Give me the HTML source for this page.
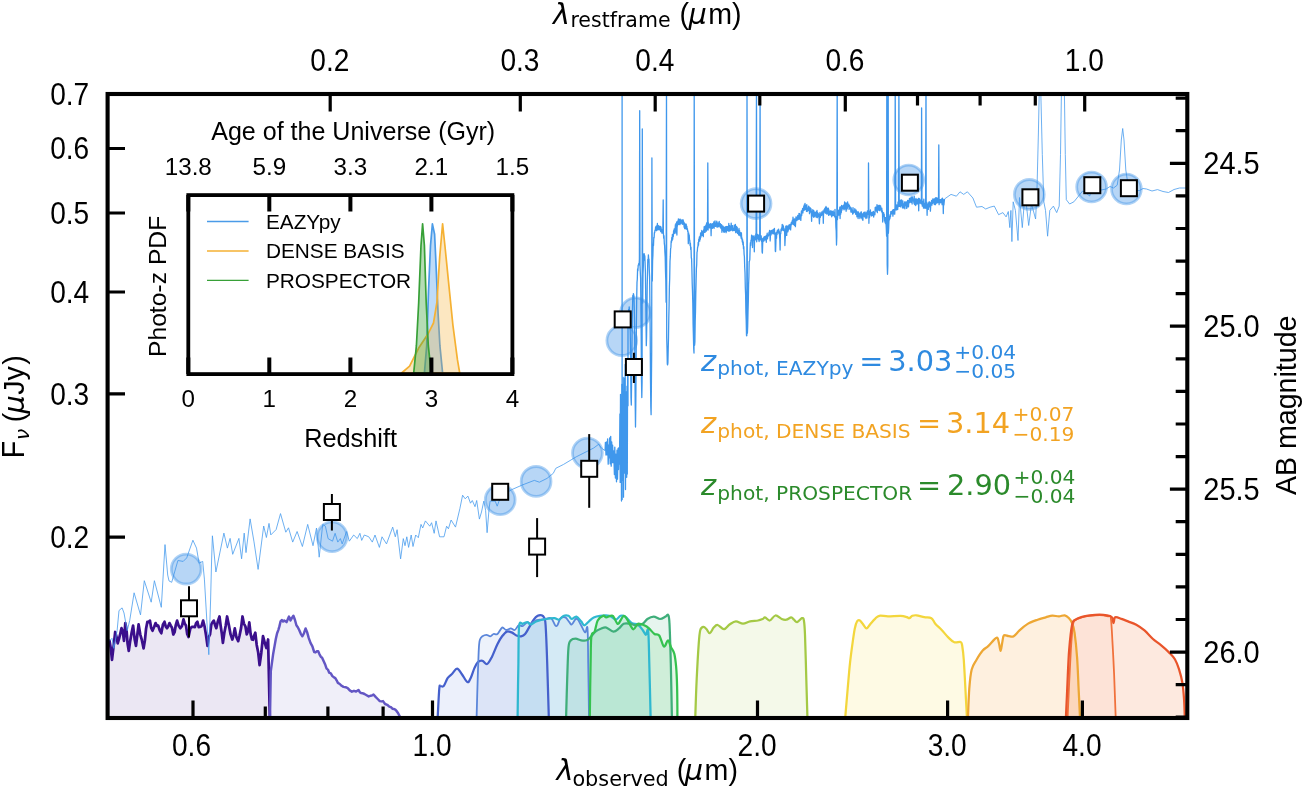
<!DOCTYPE html>
<html lang="en"><head><meta charset="utf-8"><title>SED fit</title>
<style>
html,body{margin:0;padding:0;background:#fff;}
body{width:1307px;height:791px;overflow:hidden;}
svg{display:block;}
.a{font-family:"Liberation Sans", Arial, Helvetica, sans-serif;fill:#000;}
.d{font-family:"DejaVu Sans", "Liberation Sans", sans-serif;}
.di{font-family:"DejaVu Sans", "Liberation Sans", sans-serif;font-style:italic;}
.t{font-size:28.6px;}
.i{font-size:24.2px;}
</style></head><body>
<svg width="1307" height="791" viewBox="0 0 1307 791">
<rect width="1307" height="791" fill="#fff"/>
<defs><clipPath id="cp"><rect x="107.6" y="94.0" width="1079.7" height="624.0"/></clipPath></defs>

<g clip-path="url(#cp)">
<path d="M107.6,641.0 L109.5,640.8 L110.8,648.6 L112.0,659.8 L113.6,646.2 L115.2,632.0 L116.5,636.8 L117.7,643.3 L119.0,638.9 L120.2,634.0 L121.5,628.2 L122.8,631.7 L124.0,640.8 L125.3,623.1 L126.5,629.3 L127.6,643.8 L128.8,650.9 L130.2,640.9 L131.7,632.3 L133.1,625.6 L134.6,638.9 L136.0,645.9 L137.3,635.0 L138.6,624.4 L140.3,634.6 L141.9,640.2 L143.6,648.4 L144.9,640.4 L146.1,628.4 L147.4,621.8 L148.7,622.1 L149.9,620.6 L151.2,628.0 L152.5,630.7 L154.1,627.0 L155.6,623.1 L156.9,625.9 L158.2,625.6 L159.8,630.5 L161.3,633.2 L162.9,624.7 L164.5,621.8 L165.8,626.7 L167.0,628.2 L168.2,626.2 L169.5,623.1 L170.8,625.6 L172.0,627.7 L173.3,634.5 L174.6,632.2 L175.8,625.1 L177.1,620.6 L178.7,625.8 L180.3,628.2 L181.9,626.2 L183.5,619.3 L184.8,623.8 L186.0,625.6 L187.2,634.0 L188.5,637.0 L190.4,628.2 L192.0,626.9 L193.6,626.9 L194.9,627.1 L196.1,623.1 L197.4,621.8 L198.7,627.1 L199.9,626.9 L201.5,626.2 L203.1,620.6 L204.6,626.5 L206.0,635.1 L207.5,645.9 L208.8,636.9 L210.0,634.5 L211.3,624.4 L212.6,622.1 L213.8,620.6 L215.1,625.2 L216.3,628.2 L217.9,621.1 L219.5,616.5 L220.6,625.3 L221.8,633.4 L222.9,642.9 L224.3,633.1 L225.7,625.8 L227.1,616.5 L228.8,624.7 L230.6,634.4 L232.3,639.5 L233.6,635.1 L234.8,628.4 L236.5,637.5 L238.2,641.2 L239.6,635.2 L241.1,627.9 L242.5,616.5 L243.9,623.6 L245.4,626.3 L246.8,634.4 L248.1,630.7 L249.3,622.4 L250.6,633.9 L251.9,639.5 L253.0,639.8 L254.2,635.4 L255.3,632.7 L256.7,644.9 L258.2,652.5 L259.6,665.1 L261.3,652.7 L263.0,636.1 L264.7,642.5 L266.4,648.0 L268.1,639.5 L269.8,716.3 L269.8,718.0 L107.6,718.0 Z" fill="#3b0f8c" fill-opacity="0.102" stroke="none"/>
<path d="M270.0,716.9 L270.8,671.1 L273.2,653.7 L274.5,646.4 L275.8,639.0 L277.1,633.2 L278.3,630.1 L279.4,626.4 L280.6,621.3 L281.8,620.0 L283.0,621.5 L284.2,620.5 L286.6,622.1 L289.0,616.6 L290.5,620.5 L291.9,617.9 L293.4,615.8 L294.9,619.7 L296.4,625.3 L297.8,627.2 L299.2,630.0 L300.8,633.8 L302.4,636.3 L304.0,633.2 L305.6,628.4 L307.1,632.1 L308.7,637.9 L310.5,642.9 L312.4,646.3 L314.2,652.1 L315.5,652.4 L316.9,651.2 L318.2,651.3 L319.5,654.3 L320.8,656.7 L322.1,657.7 L323.7,661.3 L325.3,664.8 L326.6,668.6 L327.9,669.6 L329.2,672.7 L330.8,673.3 L332.4,676.1 L334.0,677.4 L335.3,678.1 L336.6,680.3 L337.9,682.9 L339.8,684.0 L341.6,685.8 L343.5,686.9 L345.6,687.2 L347.7,688.1 L349.8,690.4 L351.9,691.7 L354.0,690.8 L356.1,691.6 L358.5,690.0 L359.8,692.2 L361.1,693.1 L362.4,693.2 L364.5,694.0 L366.6,695.2 L368.7,696.4 L370.3,695.8 L371.9,695.5 L373.5,694.5 L375.6,696.9 L377.7,699.0 L379.8,701.1 L381.4,701.4 L383.0,701.1 L385.1,704.0 L387.2,704.8 L389.3,706.6 L390.9,707.2 L392.4,708.7 L394.0,709.0 L395.3,709.7 L396.7,711.2 L398.0,713.0 L400.0,716.9 L400.0,718.0 L270.0,718.0 Z" fill="#6356c4" fill-opacity="0.093" stroke="none"/>
<path d="M437.7,716.9 C438.0,712.2 438.8,693.6 439.3,688.5 C439.8,683.4 439.8,686.5 440.5,686.1 C441.2,685.7 442.5,687.4 443.7,686.1 C444.9,684.8 446.2,680.3 447.6,678.2 C449.1,676.1 450.8,675.1 452.4,673.5 C454.0,671.9 455.5,668.6 457.1,668.7 C458.7,668.8 460.2,672.0 461.9,674.2 C463.6,676.4 465.9,681.4 467.4,682.1 C468.8,682.8 469.4,680.6 470.6,678.2 C471.8,675.8 473.3,670.5 474.5,667.9 C475.7,665.3 476.4,663.6 477.7,662.4 C479.0,661.2 480.8,660.5 482.4,660.8 C484.0,661.1 485.5,664.6 487.1,664.0 C488.7,663.4 490.2,660.2 491.9,656.9 C493.6,653.6 495.7,647.6 497.4,644.2 C499.1,640.8 500.5,638.4 502.1,636.3 C503.7,634.2 505.3,632.2 506.9,631.6 C508.5,631.0 510.0,631.8 511.6,632.4 C513.2,633.0 514.8,634.9 516.4,635.5 C518.0,636.1 519.6,636.5 521.1,636.3 C522.6,636.0 523.8,635.5 525.1,634.0 C526.4,632.5 527.6,630.0 529.0,627.6 C530.4,625.2 532.2,621.7 533.7,619.7 C535.2,617.7 536.4,616.5 537.7,615.8 C539.0,615.1 540.6,615.0 541.6,615.3 C542.6,615.6 543.3,615.7 544.0,617.4 C544.7,619.1 545.1,617.7 545.6,625.3 C546.1,632.9 546.7,647.9 547.2,663.2 C547.7,678.5 548.5,708.0 548.8,716.9 L548.8,718.0 L437.7,718.0 Z" fill="#4468d6" fill-opacity="0.102" stroke="none"/>
<path d="M476.6,716.9 C476.8,710.6 477.3,690.6 477.7,679.0 C478.1,667.4 478.5,654.0 478.9,647.4 C479.3,640.8 479.4,641.4 480.0,639.5 C480.6,637.6 481.3,637.1 482.4,636.3 C483.5,635.5 485.1,634.8 486.4,634.8 C487.7,634.8 489.1,636.4 490.3,636.3 C491.5,636.2 492.3,634.4 493.5,634.0 C494.7,633.6 496.0,635.1 497.4,634.0 C498.8,632.9 500.7,628.3 502.1,627.6 C503.6,626.9 504.7,629.9 506.1,630.0 C507.6,630.1 509.4,628.4 510.8,628.4 C512.2,628.4 513.5,630.5 514.8,630.0 C516.1,629.5 517.4,625.9 518.7,625.3 C520.0,624.6 521.2,626.6 522.7,626.1 C524.2,625.6 526.1,622.5 527.4,622.1 C528.7,621.7 529.3,624.0 530.6,623.7 C531.9,623.4 533.7,621.2 535.3,620.5 C536.9,619.8 538.4,620.0 540.0,619.7 C541.6,619.5 542.9,619.2 544.8,619.0 C546.6,618.8 549.4,617.2 551.1,618.2 C552.8,619.2 554.1,624.1 555.1,625.3 C556.1,626.5 556.5,626.5 557.4,625.3 C558.3,624.1 559.3,619.5 560.6,618.2 C561.9,616.9 563.8,616.8 565.3,617.4 C566.8,618.0 568.2,620.9 569.3,622.1 C570.4,623.3 570.7,625.0 571.7,624.5 C572.8,624.0 574.6,619.8 575.6,619.0 C576.6,618.2 577.1,618.7 578.0,619.7 C578.9,620.8 579.9,623.2 581.1,625.3 C582.3,627.4 584.0,631.9 585.1,632.4 C586.2,632.9 587.0,623.3 587.5,628.4 C588.0,633.5 588.0,648.5 588.2,663.2 C588.5,678.0 588.9,708.0 589.0,716.9 L589.0,718.0 L476.6,718.0 Z" fill="#5b86da" fill-opacity="0.111" stroke="none"/>
<path d="M517.6,716.9 C517.7,708.0 518.1,678.3 518.4,663.2 C518.6,648.1 518.4,632.7 519.1,626.1 C519.8,619.5 521.3,624.4 522.7,623.7 C524.1,623.0 526.1,622.0 527.4,622.1 C528.7,622.2 529.0,624.6 530.6,624.5 C532.2,624.4 534.3,622.2 536.9,621.3 C539.5,620.4 543.5,619.5 546.4,619.0 C549.3,618.5 552.2,618.1 554.3,618.2 C556.4,618.3 557.4,620.1 559.0,619.7 C560.6,619.3 562.2,616.4 563.8,615.8 C565.4,615.1 567.2,615.3 568.5,615.8 C569.8,616.3 570.4,618.9 571.7,619.0 C573.0,619.1 574.8,616.2 576.4,616.6 C578.0,617.0 579.8,619.8 581.1,621.3 C582.4,622.8 583.0,625.3 584.3,625.3 C585.6,625.3 587.4,622.6 589.0,621.3 C590.6,620.0 591.9,618.3 593.8,617.4 C595.6,616.5 597.5,616.1 600.1,615.8 C602.7,615.5 606.9,615.1 609.5,615.8 C612.1,616.4 614.0,619.7 615.8,619.7 C617.6,619.7 618.9,616.3 620.5,615.8 C622.1,615.3 623.4,615.4 625.3,616.6 C627.1,617.8 629.5,621.6 631.6,622.9 C633.7,624.2 636.0,623.3 637.9,624.5 C639.8,625.7 641.4,628.3 642.7,630.0 C644.0,631.7 644.9,634.7 645.8,634.8 C646.7,634.9 647.6,626.1 648.2,630.8 C648.8,635.5 648.9,648.9 649.3,663.2 C649.7,677.6 650.4,708.0 650.6,716.9 L650.6,718.0 L517.6,718.0 Z" fill="#2fb8d0" fill-opacity="0.128" stroke="none"/>
<path d="M566.1,716.9 C566.3,710.6 566.8,690.6 567.2,679.0 C567.6,667.4 567.9,653.9 568.5,647.4 C569.1,640.9 569.7,641.8 570.9,640.3 C572.1,638.8 573.9,638.7 575.6,638.7 C577.3,638.7 579.2,640.0 581.1,640.3 C583.0,640.6 585.1,640.8 586.7,640.3 C588.3,639.8 589.2,638.5 590.6,637.1 C592.0,635.7 593.5,633.1 595.4,631.6 C597.2,630.1 599.9,629.1 601.7,628.4 C603.5,627.7 604.3,627.1 606.3,627.6 C608.2,628.1 611.3,631.5 613.4,631.6 C615.5,631.7 617.3,629.7 619.0,628.4 C620.7,627.1 621.9,624.5 623.7,623.7 C625.5,622.9 627.9,623.4 630.0,623.7 C632.1,624.0 634.2,625.3 636.3,625.3 C638.4,625.3 640.9,624.8 642.7,623.7 C644.6,622.7 645.6,620.2 647.4,619.0 C649.2,617.8 651.6,616.6 653.7,616.6 C655.8,616.6 658.0,619.0 660.0,619.0 C662.0,619.0 664.2,617.3 665.6,616.6 C667.0,615.9 667.6,613.8 668.2,615.0 C668.9,616.2 669.1,615.7 669.5,623.7 C669.9,631.7 670.4,647.7 670.8,663.2 C671.2,678.7 671.7,708.0 671.9,716.9 L671.9,718.0 L566.1,718.0 Z" fill="#3fae7a" fill-opacity="0.128" stroke="none"/>
<path d="M589.8,716.9 C589.9,708.0 590.3,676.6 590.6,663.2 C590.9,649.8 590.7,641.6 591.4,636.3 C592.1,631.0 593.5,634.2 594.6,631.6 C595.7,629.0 596.2,623.1 597.7,620.5 C599.2,617.9 601.9,616.3 603.3,615.8 C604.7,615.3 604.8,617.4 606.3,617.4 C607.8,617.4 610.8,614.8 612.6,615.8 C614.5,616.8 616.1,622.9 617.4,623.7 C618.7,624.5 619.5,621.8 620.5,620.5 C621.5,619.2 622.6,616.0 623.7,615.8 C624.8,615.5 625.3,616.8 626.9,619.0 C628.5,621.2 631.4,628.4 633.2,629.2 C635.0,630.0 636.1,624.4 637.9,623.7 C639.7,623.1 642.4,624.5 644.2,625.3 C646.1,626.1 647.3,626.9 649.0,628.4 C650.7,629.9 652.8,632.8 654.5,634.0 C656.2,635.2 657.6,633.4 659.2,635.5 C660.8,637.6 662.5,645.8 664.0,646.6 C665.5,647.4 666.7,640.2 667.9,640.3 C669.1,640.4 670.0,645.2 671.1,647.4 C672.2,649.6 673.5,650.5 674.3,653.7 C675.1,656.9 675.6,660.9 676.1,666.4 C676.6,671.9 676.9,678.5 677.1,686.9 C677.3,695.3 677.4,711.9 677.4,716.9 L677.4,718.0 L589.8,718.0 Z" fill="#35c24f" fill-opacity="0.128" stroke="none"/>
<path d="M695.3,716.9 C695.5,710.6 696.1,691.1 696.7,679.0 C697.3,666.9 698.1,652.4 698.7,644.2 C699.3,636.0 699.5,632.9 700.3,630.0 C701.1,627.1 702.5,627.0 703.5,626.9 C704.5,626.8 705.6,628.2 706.6,629.2 C707.6,630.2 708.6,633.5 709.8,633.2 C711.0,632.9 712.4,629.0 713.7,627.6 C715.0,626.2 716.0,624.7 717.7,625.0 C719.4,625.3 722.0,629.3 724.0,629.2 C726.0,629.1 727.5,625.8 729.5,624.5 C731.5,623.2 733.6,621.4 735.9,621.3 C738.1,621.2 740.6,623.7 743.0,623.7 C745.4,623.7 747.6,621.8 750.1,621.3 C752.6,620.8 755.9,620.9 758.0,620.5 C760.1,620.1 761.5,619.5 762.7,619.0 C763.9,618.5 763.9,617.1 765.1,617.4 C766.3,617.6 768.1,620.8 769.8,620.5 C771.5,620.2 773.4,615.8 775.4,615.5 C777.4,615.2 779.9,618.3 781.7,619.0 C783.5,619.7 784.8,620.0 786.4,619.7 C788.0,619.4 789.9,617.4 791.2,617.4 C792.5,617.4 793.0,618.9 794.0,619.7 C795.0,620.5 795.8,622.4 797.1,622.1 C798.4,621.9 800.7,618.5 801.8,618.2 C802.9,617.9 803.4,617.7 803.9,620.5 C804.4,623.3 804.6,625.0 805.0,634.8 C805.4,644.5 805.9,665.3 806.3,679.0 C806.7,692.7 807.2,710.6 807.4,716.9 L807.4,718.0 L695.3,718.0 Z" fill="#a4c945" fill-opacity="0.119" stroke="none"/>
<path d="M845.3,716.9 C845.7,712.2 846.9,697.5 847.7,688.5 C848.5,679.5 849.2,670.6 850.0,663.2 C850.8,655.8 851.6,650.0 852.4,644.2 C853.2,638.4 854.0,632.2 854.8,628.4 C855.6,624.6 856.3,622.7 857.1,621.3 C857.9,619.9 858.6,619.8 859.5,620.2 C860.4,620.6 861.5,622.3 862.7,623.7 C863.9,625.1 865.3,628.4 866.6,628.4 C867.9,628.4 869.2,625.3 870.6,623.7 C872.0,622.1 873.8,619.9 875.3,618.6 C876.8,617.3 877.2,616.2 879.3,615.8 C881.4,615.4 884.5,616.3 888.0,616.3 C891.5,616.3 897.5,615.7 900.6,615.8 C903.8,615.9 905.5,616.7 906.9,617.1 C908.3,617.5 908.4,618.4 909.3,618.2 C910.2,618.0 911.2,616.3 912.4,615.8 C913.6,615.3 914.4,615.1 916.4,615.3 C918.4,615.5 921.8,616.6 924.3,617.1 C926.8,617.6 929.6,617.1 931.4,618.2 C933.2,619.3 933.6,621.7 935.3,623.7 C937.0,625.7 939.6,627.8 941.7,630.0 C943.8,632.2 945.9,635.1 948.0,637.1 C950.1,639.1 952.2,641.5 954.3,642.3 C956.4,643.1 959.3,641.3 960.6,641.9 C961.9,642.5 961.7,642.8 962.2,645.8 C962.7,648.8 963.3,652.9 963.8,660.0 C964.3,667.1 964.9,679.0 965.4,688.5 C965.9,698.0 966.6,712.2 966.9,716.9 L966.9,718.0 L845.3,718.0 Z" fill="#f8d835" fill-opacity="0.132" stroke="none"/>
<path d="M968.0,716.9 C968.2,712.2 968.7,696.4 969.3,688.5 C969.9,680.6 970.5,674.2 971.7,669.5 C972.9,664.8 974.6,663.1 976.4,660.0 C978.2,656.9 980.7,652.9 982.7,650.6 C984.7,648.3 985.9,648.2 988.2,646.1 C990.5,644.0 994.6,638.3 996.4,637.8 C998.2,637.2 998.2,640.6 998.9,642.8 C999.6,645.0 1000.0,651.0 1000.6,651.0 C1001.2,651.0 1001.7,645.4 1002.2,642.8 C1002.8,640.2 1002.8,636.5 1003.9,635.4 C1005.0,634.3 1007.2,636.1 1008.8,636.2 C1010.4,636.3 1011.9,637.2 1013.7,636.2 C1015.5,635.2 1017.2,632.5 1019.5,630.4 C1021.8,628.3 1024.7,625.7 1027.7,623.9 C1030.7,622.1 1034.6,620.8 1037.6,619.7 C1040.6,618.6 1043.3,618.0 1045.8,617.3 C1048.3,616.6 1050.2,615.8 1052.4,615.6 C1054.6,615.5 1057.0,616.5 1059.0,616.4 C1061.0,616.3 1063.1,615.0 1064.7,615.3 C1066.3,615.6 1067.6,616.8 1068.8,618.1 C1070.0,619.4 1071.1,620.5 1072.1,623.0 C1073.1,625.5 1073.8,627.1 1074.6,632.9 C1075.4,638.7 1076.4,648.0 1077.1,657.6 C1077.8,667.2 1078.2,680.5 1078.7,690.5 C1079.2,700.5 1079.8,713.1 1080.0,717.6 L1080.0,718.0 L968.0,718.0 Z" fill="#f79c28" fill-opacity="0.149" stroke="none"/>
<path d="M1067.6,717.6 C1067.9,711.7 1068.7,693.7 1069.2,682.3 C1069.8,670.9 1070.4,658.1 1070.9,649.3 C1071.4,640.5 1072.0,634.1 1072.4,629.6 C1072.9,625.1 1072.8,624.0 1073.6,622.2 C1074.4,620.4 1075.1,619.9 1077.1,618.9 C1079.0,617.9 1082.3,617.0 1085.3,616.4 C1088.3,615.8 1092.2,615.5 1095.2,615.3 C1098.2,615.1 1101.2,615.1 1103.4,615.3 C1105.6,615.5 1107.1,615.9 1108.3,616.4 C1109.5,616.9 1110.1,614.0 1110.8,618.1 C1111.5,622.2 1111.9,631.8 1112.4,641.1 C1113.0,650.4 1113.5,661.2 1114.1,674.0 C1114.6,686.8 1115.4,710.3 1115.7,717.6 L1115.7,718.0 L1067.6,718.0 Z" fill="#f5752c" fill-opacity="0.043" stroke="none"/>
<path d="M1065.9,717.6 C1066.2,711.7 1067.0,693.7 1067.5,682.3 C1068.0,670.9 1068.4,658.9 1069.2,649.3 C1070.0,639.7 1071.1,629.6 1072.1,624.7 C1073.1,619.8 1073.2,621.1 1075.4,619.7 C1077.6,618.3 1082.0,616.9 1085.3,616.1 C1088.6,615.3 1092.2,615.0 1095.2,614.8 C1098.2,614.6 1100.9,614.6 1103.4,614.8 C1105.9,615.0 1108.5,615.5 1110.0,616.0 C1111.5,616.5 1111.8,616.9 1112.4,618.1 C1113.0,619.3 1113.1,623.1 1113.6,623.0 C1114.1,622.9 1113.9,618.0 1115.2,617.3 C1116.5,616.6 1119.4,618.2 1121.5,618.9 C1123.6,619.6 1125.5,620.4 1128.0,621.4 C1130.5,622.4 1133.5,623.2 1136.3,624.7 C1139.0,626.2 1141.8,628.1 1144.5,630.4 C1147.2,632.7 1150.0,636.2 1152.7,638.7 C1155.4,641.2 1158.2,642.9 1160.9,645.2 C1163.7,647.5 1166.9,650.3 1169.2,652.6 C1171.5,654.9 1173.3,656.5 1174.9,659.2 C1176.5,662.0 1177.8,665.2 1179.0,669.1 C1180.2,673.0 1181.5,677.4 1182.3,682.3 C1183.1,687.2 1183.6,692.8 1184.0,698.7 C1184.4,704.6 1184.7,714.5 1184.8,717.6 L1184.8,718.0 L1065.9,718.0 Z" fill="#f4611f" fill-opacity="0.140" stroke="none"/>
<path d="M107.6,641.0 L109.5,640.8 L110.8,648.6 L112.0,659.8 L113.6,646.2 L115.2,632.0 L116.5,636.8 L117.7,643.3 L119.0,638.9 L120.2,634.0 L121.5,628.2 L122.8,631.7 L124.0,640.8 L125.3,623.1 L126.5,629.3 L127.6,643.8 L128.8,650.9 L130.2,640.9 L131.7,632.3 L133.1,625.6 L134.6,638.9 L136.0,645.9 L137.3,635.0 L138.6,624.4 L140.3,634.6 L141.9,640.2 L143.6,648.4 L144.9,640.4 L146.1,628.4 L147.4,621.8 L148.7,622.1 L149.9,620.6 L151.2,628.0 L152.5,630.7 L154.1,627.0 L155.6,623.1 L156.9,625.9 L158.2,625.6 L159.8,630.5 L161.3,633.2 L162.9,624.7 L164.5,621.8 L165.8,626.7 L167.0,628.2 L168.2,626.2 L169.5,623.1 L170.8,625.6 L172.0,627.7 L173.3,634.5 L174.6,632.2 L175.8,625.1 L177.1,620.6 L178.7,625.8 L180.3,628.2 L181.9,626.2 L183.5,619.3 L184.8,623.8 L186.0,625.6 L187.2,634.0 L188.5,637.0 L190.4,628.2 L192.0,626.9 L193.6,626.9 L194.9,627.1 L196.1,623.1 L197.4,621.8 L198.7,627.1 L199.9,626.9 L201.5,626.2 L203.1,620.6 L204.6,626.5 L206.0,635.1 L207.5,645.9 L208.8,636.9 L210.0,634.5 L211.3,624.4 L212.6,622.1 L213.8,620.6 L215.1,625.2 L216.3,628.2 L217.9,621.1 L219.5,616.5 L220.6,625.3 L221.8,633.4 L222.9,642.9 L224.3,633.1 L225.7,625.8 L227.1,616.5 L228.8,624.7 L230.6,634.4 L232.3,639.5 L233.6,635.1 L234.8,628.4 L236.5,637.5 L238.2,641.2 L239.6,635.2 L241.1,627.9 L242.5,616.5 L243.9,623.6 L245.4,626.3 L246.8,634.4 L248.1,630.7 L249.3,622.4 L250.6,633.9 L251.9,639.5 L253.0,639.8 L254.2,635.4 L255.3,632.7 L256.7,644.9 L258.2,652.5 L259.6,665.1 L261.3,652.7 L263.0,636.1 L264.7,642.5 L266.4,648.0 L268.1,639.5 L269.8,716.3" fill="none" stroke="#3b0f8c" stroke-width="2.74" stroke-linejoin="round" stroke-linecap="round"/>
<path d="M270.0,716.9 L270.8,671.1 L273.2,653.7 L274.5,646.4 L275.8,639.0 L277.1,633.2 L278.3,630.1 L279.4,626.4 L280.6,621.3 L281.8,620.0 L283.0,621.5 L284.2,620.5 L286.6,622.1 L289.0,616.6 L290.5,620.5 L291.9,617.9 L293.4,615.8 L294.9,619.7 L296.4,625.3 L297.8,627.2 L299.2,630.0 L300.8,633.8 L302.4,636.3 L304.0,633.2 L305.6,628.4 L307.1,632.1 L308.7,637.9 L310.5,642.9 L312.4,646.3 L314.2,652.1 L315.5,652.4 L316.9,651.2 L318.2,651.3 L319.5,654.3 L320.8,656.7 L322.1,657.7 L323.7,661.3 L325.3,664.8 L326.6,668.6 L327.9,669.6 L329.2,672.7 L330.8,673.3 L332.4,676.1 L334.0,677.4 L335.3,678.1 L336.6,680.3 L337.9,682.9 L339.8,684.0 L341.6,685.8 L343.5,686.9 L345.6,687.2 L347.7,688.1 L349.8,690.4 L351.9,691.7 L354.0,690.8 L356.1,691.6 L358.5,690.0 L359.8,692.2 L361.1,693.1 L362.4,693.2 L364.5,694.0 L366.6,695.2 L368.7,696.4 L370.3,695.8 L371.9,695.5 L373.5,694.5 L375.6,696.9 L377.7,699.0 L379.8,701.1 L381.4,701.4 L383.0,701.1 L385.1,704.0 L387.2,704.8 L389.3,706.6 L390.9,707.2 L392.4,708.7 L394.0,709.0 L395.3,709.7 L396.7,711.2 L398.0,713.0 L400.0,716.9" fill="none" stroke="#6356c4" stroke-width="2.46" stroke-linejoin="round" stroke-linecap="round"/>
<path d="M437.7,716.9 C438.0,712.2 438.8,693.6 439.3,688.5 C439.8,683.4 439.8,686.5 440.5,686.1 C441.2,685.7 442.5,687.4 443.7,686.1 C444.9,684.8 446.2,680.3 447.6,678.2 C449.1,676.1 450.8,675.1 452.4,673.5 C454.0,671.9 455.5,668.6 457.1,668.7 C458.7,668.8 460.2,672.0 461.9,674.2 C463.6,676.4 465.9,681.4 467.4,682.1 C468.8,682.8 469.4,680.6 470.6,678.2 C471.8,675.8 473.3,670.5 474.5,667.9 C475.7,665.3 476.4,663.6 477.7,662.4 C479.0,661.2 480.8,660.5 482.4,660.8 C484.0,661.1 485.5,664.6 487.1,664.0 C488.7,663.4 490.2,660.2 491.9,656.9 C493.6,653.6 495.7,647.6 497.4,644.2 C499.1,640.8 500.5,638.4 502.1,636.3 C503.7,634.2 505.3,632.2 506.9,631.6 C508.5,631.0 510.0,631.8 511.6,632.4 C513.2,633.0 514.8,634.9 516.4,635.5 C518.0,636.1 519.6,636.5 521.1,636.3 C522.6,636.0 523.8,635.5 525.1,634.0 C526.4,632.5 527.6,630.0 529.0,627.6 C530.4,625.2 532.2,621.7 533.7,619.7 C535.2,617.7 536.4,616.5 537.7,615.8 C539.0,615.1 540.6,615.0 541.6,615.3 C542.6,615.6 543.3,615.7 544.0,617.4 C544.7,619.1 545.1,617.7 545.6,625.3 C546.1,632.9 546.7,647.9 547.2,663.2 C547.7,678.5 548.5,708.0 548.8,716.9" fill="none" stroke="#4560cc" stroke-width="2.24" stroke-linejoin="round" stroke-linecap="round"/>
<path d="M476.6,716.9 C476.8,710.6 477.3,690.6 477.7,679.0 C478.1,667.4 478.5,654.0 478.9,647.4 C479.3,640.8 479.4,641.4 480.0,639.5 C480.6,637.6 481.3,637.1 482.4,636.3 C483.5,635.5 485.1,634.8 486.4,634.8 C487.7,634.8 489.1,636.4 490.3,636.3 C491.5,636.2 492.3,634.4 493.5,634.0 C494.7,633.6 496.0,635.1 497.4,634.0 C498.8,632.9 500.7,628.3 502.1,627.6 C503.6,626.9 504.7,629.9 506.1,630.0 C507.6,630.1 509.4,628.4 510.8,628.4 C512.2,628.4 513.5,630.5 514.8,630.0 C516.1,629.5 517.4,625.9 518.7,625.3 C520.0,624.6 521.2,626.6 522.7,626.1 C524.2,625.6 526.1,622.5 527.4,622.1 C528.7,621.7 529.3,624.0 530.6,623.7 C531.9,623.4 533.7,621.2 535.3,620.5 C536.9,619.8 538.4,620.0 540.0,619.7 C541.6,619.5 542.9,619.2 544.8,619.0 C546.6,618.8 549.4,617.2 551.1,618.2 C552.8,619.2 554.1,624.1 555.1,625.3 C556.1,626.5 556.5,626.5 557.4,625.3 C558.3,624.1 559.3,619.5 560.6,618.2 C561.9,616.9 563.8,616.8 565.3,617.4 C566.8,618.0 568.2,620.9 569.3,622.1 C570.4,623.3 570.7,625.0 571.7,624.5 C572.8,624.0 574.6,619.8 575.6,619.0 C576.6,618.2 577.1,618.7 578.0,619.7 C578.9,620.8 579.9,623.2 581.1,625.3 C582.3,627.4 584.0,631.9 585.1,632.4 C586.2,632.9 587.0,623.3 587.5,628.4 C588.0,633.5 588.0,648.5 588.2,663.2 C588.5,678.0 588.9,708.0 589.0,716.9" fill="none" stroke="#5b86da" stroke-width="1.79" stroke-linejoin="round" stroke-linecap="round"/>
<path d="M517.6,716.9 C517.7,708.0 518.1,678.3 518.4,663.2 C518.6,648.1 518.4,632.7 519.1,626.1 C519.8,619.5 521.3,624.4 522.7,623.7 C524.1,623.0 526.1,622.0 527.4,622.1 C528.7,622.2 529.0,624.6 530.6,624.5 C532.2,624.4 534.3,622.2 536.9,621.3 C539.5,620.4 543.5,619.5 546.4,619.0 C549.3,618.5 552.2,618.1 554.3,618.2 C556.4,618.3 557.4,620.1 559.0,619.7 C560.6,619.3 562.2,616.4 563.8,615.8 C565.4,615.1 567.2,615.3 568.5,615.8 C569.8,616.3 570.4,618.9 571.7,619.0 C573.0,619.1 574.8,616.2 576.4,616.6 C578.0,617.0 579.8,619.8 581.1,621.3 C582.4,622.8 583.0,625.3 584.3,625.3 C585.6,625.3 587.4,622.6 589.0,621.3 C590.6,620.0 591.9,618.3 593.8,617.4 C595.6,616.5 597.5,616.1 600.1,615.8 C602.7,615.5 606.9,615.1 609.5,615.8 C612.1,616.4 614.0,619.7 615.8,619.7 C617.6,619.7 618.9,616.3 620.5,615.8 C622.1,615.3 623.4,615.4 625.3,616.6 C627.1,617.8 629.5,621.6 631.6,622.9 C633.7,624.2 636.0,623.3 637.9,624.5 C639.8,625.7 641.4,628.3 642.7,630.0 C644.0,631.7 644.9,634.7 645.8,634.8 C646.7,634.9 647.6,626.1 648.2,630.8 C648.8,635.5 648.9,648.9 649.3,663.2 C649.7,677.6 650.4,708.0 650.6,716.9" fill="none" stroke="#2fb8d0" stroke-width="2.24" stroke-linejoin="round" stroke-linecap="round"/>
<path d="M566.1,716.9 C566.3,710.6 566.8,690.6 567.2,679.0 C567.6,667.4 567.9,653.9 568.5,647.4 C569.1,640.9 569.7,641.8 570.9,640.3 C572.1,638.8 573.9,638.7 575.6,638.7 C577.3,638.7 579.2,640.0 581.1,640.3 C583.0,640.6 585.1,640.8 586.7,640.3 C588.3,639.8 589.2,638.5 590.6,637.1 C592.0,635.7 593.5,633.1 595.4,631.6 C597.2,630.1 599.9,629.1 601.7,628.4 C603.5,627.7 604.3,627.1 606.3,627.6 C608.2,628.1 611.3,631.5 613.4,631.6 C615.5,631.7 617.3,629.7 619.0,628.4 C620.7,627.1 621.9,624.5 623.7,623.7 C625.5,622.9 627.9,623.4 630.0,623.7 C632.1,624.0 634.2,625.3 636.3,625.3 C638.4,625.3 640.9,624.8 642.7,623.7 C644.6,622.7 645.6,620.2 647.4,619.0 C649.2,617.8 651.6,616.6 653.7,616.6 C655.8,616.6 658.0,619.0 660.0,619.0 C662.0,619.0 664.2,617.3 665.6,616.6 C667.0,615.9 667.6,613.8 668.2,615.0 C668.9,616.2 669.1,615.7 669.5,623.7 C669.9,631.7 670.4,647.7 670.8,663.2 C671.2,678.7 671.7,708.0 671.9,716.9" fill="none" stroke="#3fae7a" stroke-width="2.24" stroke-linejoin="round" stroke-linecap="round"/>
<path d="M589.8,716.9 C589.9,708.0 590.3,676.6 590.6,663.2 C590.9,649.8 590.7,641.6 591.4,636.3 C592.1,631.0 593.5,634.2 594.6,631.6 C595.7,629.0 596.2,623.1 597.7,620.5 C599.2,617.9 601.9,616.3 603.3,615.8 C604.7,615.3 604.8,617.4 606.3,617.4 C607.8,617.4 610.8,614.8 612.6,615.8 C614.5,616.8 616.1,622.9 617.4,623.7 C618.7,624.5 619.5,621.8 620.5,620.5 C621.5,619.2 622.6,616.0 623.7,615.8 C624.8,615.5 625.3,616.8 626.9,619.0 C628.5,621.2 631.4,628.4 633.2,629.2 C635.0,630.0 636.1,624.4 637.9,623.7 C639.7,623.1 642.4,624.5 644.2,625.3 C646.1,626.1 647.3,626.9 649.0,628.4 C650.7,629.9 652.8,632.8 654.5,634.0 C656.2,635.2 657.6,633.4 659.2,635.5 C660.8,637.6 662.5,645.8 664.0,646.6 C665.5,647.4 666.7,640.2 667.9,640.3 C669.1,640.4 670.0,645.2 671.1,647.4 C672.2,649.6 673.5,650.5 674.3,653.7 C675.1,656.9 675.6,660.9 676.1,666.4 C676.6,671.9 676.9,678.5 677.1,686.9 C677.3,695.3 677.4,711.9 677.4,716.9" fill="none" stroke="#35c24f" stroke-width="2.24" stroke-linejoin="round" stroke-linecap="round"/>
<path d="M695.3,716.9 C695.5,710.6 696.1,691.1 696.7,679.0 C697.3,666.9 698.1,652.4 698.7,644.2 C699.3,636.0 699.5,632.9 700.3,630.0 C701.1,627.1 702.5,627.0 703.5,626.9 C704.5,626.8 705.6,628.2 706.6,629.2 C707.6,630.2 708.6,633.5 709.8,633.2 C711.0,632.9 712.4,629.0 713.7,627.6 C715.0,626.2 716.0,624.7 717.7,625.0 C719.4,625.3 722.0,629.3 724.0,629.2 C726.0,629.1 727.5,625.8 729.5,624.5 C731.5,623.2 733.6,621.4 735.9,621.3 C738.1,621.2 740.6,623.7 743.0,623.7 C745.4,623.7 747.6,621.8 750.1,621.3 C752.6,620.8 755.9,620.9 758.0,620.5 C760.1,620.1 761.5,619.5 762.7,619.0 C763.9,618.5 763.9,617.1 765.1,617.4 C766.3,617.6 768.1,620.8 769.8,620.5 C771.5,620.2 773.4,615.8 775.4,615.5 C777.4,615.2 779.9,618.3 781.7,619.0 C783.5,619.7 784.8,620.0 786.4,619.7 C788.0,619.4 789.9,617.4 791.2,617.4 C792.5,617.4 793.0,618.9 794.0,619.7 C795.0,620.5 795.8,622.4 797.1,622.1 C798.4,621.9 800.7,618.5 801.8,618.2 C802.9,617.9 803.4,617.7 803.9,620.5 C804.4,623.3 804.6,625.0 805.0,634.8 C805.4,644.5 805.9,665.3 806.3,679.0 C806.7,692.7 807.2,710.6 807.4,716.9" fill="none" stroke="#a4c945" stroke-width="2.24" stroke-linejoin="round" stroke-linecap="round"/>
<path d="M845.3,716.9 C845.7,712.2 846.9,697.5 847.7,688.5 C848.5,679.5 849.2,670.6 850.0,663.2 C850.8,655.8 851.6,650.0 852.4,644.2 C853.2,638.4 854.0,632.2 854.8,628.4 C855.6,624.6 856.3,622.7 857.1,621.3 C857.9,619.9 858.6,619.8 859.5,620.2 C860.4,620.6 861.5,622.3 862.7,623.7 C863.9,625.1 865.3,628.4 866.6,628.4 C867.9,628.4 869.2,625.3 870.6,623.7 C872.0,622.1 873.8,619.9 875.3,618.6 C876.8,617.3 877.2,616.2 879.3,615.8 C881.4,615.4 884.5,616.3 888.0,616.3 C891.5,616.3 897.5,615.7 900.6,615.8 C903.8,615.9 905.5,616.7 906.9,617.1 C908.3,617.5 908.4,618.4 909.3,618.2 C910.2,618.0 911.2,616.3 912.4,615.8 C913.6,615.3 914.4,615.1 916.4,615.3 C918.4,615.5 921.8,616.6 924.3,617.1 C926.8,617.6 929.6,617.1 931.4,618.2 C933.2,619.3 933.6,621.7 935.3,623.7 C937.0,625.7 939.6,627.8 941.7,630.0 C943.8,632.2 945.9,635.1 948.0,637.1 C950.1,639.1 952.2,641.5 954.3,642.3 C956.4,643.1 959.3,641.3 960.6,641.9 C961.9,642.5 961.7,642.8 962.2,645.8 C962.7,648.8 963.3,652.9 963.8,660.0 C964.3,667.1 964.9,679.0 965.4,688.5 C965.9,698.0 966.6,712.2 966.9,716.9" fill="none" stroke="#f3d63c" stroke-width="2.24" stroke-linejoin="round" stroke-linecap="round"/>
<path d="M968.0,716.9 C968.2,712.2 968.7,696.4 969.3,688.5 C969.9,680.6 970.5,674.2 971.7,669.5 C972.9,664.8 974.6,663.1 976.4,660.0 C978.2,656.9 980.7,652.9 982.7,650.6 C984.7,648.3 985.9,648.2 988.2,646.1 C990.5,644.0 994.6,638.3 996.4,637.8 C998.2,637.2 998.2,640.6 998.9,642.8 C999.6,645.0 1000.0,651.0 1000.6,651.0 C1001.2,651.0 1001.7,645.4 1002.2,642.8 C1002.8,640.2 1002.8,636.5 1003.9,635.4 C1005.0,634.3 1007.2,636.1 1008.8,636.2 C1010.4,636.3 1011.9,637.2 1013.7,636.2 C1015.5,635.2 1017.2,632.5 1019.5,630.4 C1021.8,628.3 1024.7,625.7 1027.7,623.9 C1030.7,622.1 1034.6,620.8 1037.6,619.7 C1040.6,618.6 1043.3,618.0 1045.8,617.3 C1048.3,616.6 1050.2,615.8 1052.4,615.6 C1054.6,615.5 1057.0,616.5 1059.0,616.4 C1061.0,616.3 1063.1,615.0 1064.7,615.3 C1066.3,615.6 1067.6,616.8 1068.8,618.1 C1070.0,619.4 1071.1,620.5 1072.1,623.0 C1073.1,625.5 1073.8,627.1 1074.6,632.9 C1075.4,638.7 1076.4,648.0 1077.1,657.6 C1077.8,667.2 1078.2,680.5 1078.7,690.5 C1079.2,700.5 1079.8,713.1 1080.0,717.6" fill="none" stroke="#eda734" stroke-width="2.24" stroke-linejoin="round" stroke-linecap="round"/>
<path d="M1067.6,717.6 C1067.9,711.7 1068.7,693.7 1069.2,682.3 C1069.8,670.9 1070.4,658.1 1070.9,649.3 C1071.4,640.5 1072.0,634.1 1072.4,629.6 C1072.9,625.1 1072.8,624.0 1073.6,622.2 C1074.4,620.4 1075.1,619.9 1077.1,618.9 C1079.0,617.9 1082.3,617.0 1085.3,616.4 C1088.3,615.8 1092.2,615.5 1095.2,615.3 C1098.2,615.1 1101.2,615.1 1103.4,615.3 C1105.6,615.5 1107.1,615.9 1108.3,616.4 C1109.5,616.9 1110.1,614.0 1110.8,618.1 C1111.5,622.2 1111.9,631.8 1112.4,641.1 C1113.0,650.4 1113.5,661.2 1114.1,674.0 C1114.6,686.8 1115.4,710.3 1115.7,717.6" fill="none" stroke="#f0713c" stroke-width="1.79" stroke-linejoin="round" stroke-linecap="round"/>
<path d="M1065.9,717.6 C1066.2,711.7 1067.0,693.7 1067.5,682.3 C1068.0,670.9 1068.4,658.9 1069.2,649.3 C1070.0,639.7 1071.1,629.6 1072.1,624.7 C1073.1,619.8 1073.2,621.1 1075.4,619.7 C1077.6,618.3 1082.0,616.9 1085.3,616.1 C1088.6,615.3 1092.2,615.0 1095.2,614.8 C1098.2,614.6 1100.9,614.6 1103.4,614.8 C1105.9,615.0 1108.5,615.5 1110.0,616.0 C1111.5,616.5 1111.8,616.9 1112.4,618.1 C1113.0,619.3 1113.1,623.1 1113.6,623.0 C1114.1,622.9 1113.9,618.0 1115.2,617.3 C1116.5,616.6 1119.4,618.2 1121.5,618.9 C1123.6,619.6 1125.5,620.4 1128.0,621.4 C1130.5,622.4 1133.5,623.2 1136.3,624.7 C1139.0,626.2 1141.8,628.1 1144.5,630.4 C1147.2,632.7 1150.0,636.2 1152.7,638.7 C1155.4,641.2 1158.2,642.9 1160.9,645.2 C1163.7,647.5 1166.9,650.3 1169.2,652.6 C1171.5,654.9 1173.3,656.5 1174.9,659.2 C1176.5,662.0 1177.8,665.2 1179.0,669.1 C1180.2,673.0 1181.5,677.4 1182.3,682.3 C1183.1,687.2 1183.6,692.8 1184.0,698.7 C1184.4,704.6 1184.7,714.5 1184.8,717.6" fill="none" stroke="#e9552b" stroke-width="2.24" stroke-linejoin="round" stroke-linecap="round"/>
<path d="M108.5,641.0 L109.5,640.8 L112.0,638.3 L113.9,648.4 L117.1,630.7 L119.0,610.5 L122.1,607.9 L124.0,613.0 L127.2,630.7 L129.7,620.6 L134.1,592.8 L140.5,614.9 L144.3,580.7 L151.2,602.2 L154.4,580.7 L161.3,607.3 L165.0,544.6 L167.7,575.0 L169.0,580.9 L171.7,582.3 L177.9,560.5 L183.2,561.4 L186.7,557.9 L192.9,540.2 L196.5,548.1 L199.1,563.2 L202.7,561.4 L204.4,579.1 L206.5,615.0 L208.8,654.7 L210.6,600.0 L211.6,560.0 L212.4,535.8 L215.9,572.0 L223.9,533.1 L227.4,548.1 L230.1,538.4 L232.7,554.3 L238.9,538.4 L241.6,558.8 L244.2,533.1 L246.0,552.6 L250.1,518.9 L254.0,541.9 L258.1,569.4 L263.7,526.0 L266.4,537.5 L269.0,523.4 L270.8,534.9 L276.1,529.6 L280.5,513.6 L285.8,532.2 L288.5,527.8 L292.7,542.1 L297.1,531.5 L302.4,546.5 L307.7,524.4 L313.0,545.7 L316.5,528.0 L319.2,557.2 L322.7,524.4 L325.4,526.2 L328.1,538.6 L332.5,541.2 L335.1,533.3 L337.8,542.1 L340.4,538.6 L342.2,543.9 L346.6,531.5 L349.3,541.2 L353.7,535.0 L357.3,538.6 L359.9,533.3 L361.7,540.4 L364.3,535.0 L368.8,536.8 L372.3,542.1 L375.0,535.0 L379.4,547.4 L382.0,536.8 L386.5,543.9 L392.7,527.1 L395.3,536.8 L397.1,529.7 L400.6,558.9 L403.3,538.6 L405.0,545.7 L406.8,536.8 L408.6,547.4 L411.2,535.0 L413.0,546.5 L415.7,535.0 L418.3,537.7 L421.0,524.4 L422.7,528.0 L425.4,520.9 L429.8,526.2 L431.6,522.7 L434.2,533.3 L436.0,520.9 L439.6,536.8 L444.0,536.8 L446.6,526.2 L448.4,528.8 L451.1,520.0 L455.5,527.1 L459.9,508.5 L462.6,495.2 L465.2,498.8 L467.9,496.1 L470.5,503.2 L472.3,500.5 L475.0,506.7 L476.7,500.5 L479.4,519.1 L481.5,512.0 L483.8,501.1 L485.6,510.3 L487.1,532.7 L489.1,508.5 L490.1,501.1 L495.2,501.1 L497.2,506.2 L499.0,501.1 L505.3,493.5 L511.6,489.7 L523.0,484.7 L534.3,480.4 L539.4,482.2 L547.0,478.4 L553.3,473.3 L555.8,468.3 L563.4,464.5 L576.1,456.9 L586.2,451.8 L593.7,448.0 L598.8,444.2 L601.3,448.0 L605.1,450.6" fill="none" stroke="#4a9dee" stroke-opacity="0.9" stroke-width="0.9" stroke-linejoin="round"/>
<path d="M605.1,450.6 L605.4,442.5 L606.0,455.0 L606.5,442.0 L607.1,454.8 L607.6,439.0 L608.2,464.2 L608.7,445.2 L609.1,457.8 L609.6,437.9 L610.2,463.8 L610.7,436.3 L611.2,466.2 L611.7,441.9 L612.2,462.7 L612.6,445.1 L613.3,462.7 L613.7,450.9 L614.4,474.6 L614.8,447.1 L615.4,478.0 L615.9,454.1 L616.5,481.8 L617.0,450.2 L617.5,479.2 L618.1,448.3 L618.5,469.5 L619.1,447.3 L619.5,464.2 L619.9,413.9 L620.2,482.4 L620.5,394.3 L620.8,447.9 L621.1,411.8 L621.5,501.1 L621.9,384.3 L622.2,480.6 L622.6,385.5 L622.9,479.0 L623.2,377.5 L623.5,497.2 L623.9,405.4 L624.3,463.5 L624.6,377.9 L624.9,473.3 L625.2,364.4 L625.5,489.5 L625.8,402.9 L626.0,474.5 L626.3,391.8 L626.7,477.3 L627.0,386.1 L627.3,474.0 L627.6,368.8 L628.0,405.8 L628.0,315.4 L628.3,316.4 L628.6,309.3 L628.9,313.2 L629.2,306.8 L629.5,311.4 L629.8,311.1 L630.1,325.5 L630.4,341.9 L630.7,372.5 L631.0,397.7 L631.3,405.0 L631.6,380.1 L631.9,352.0 L632.2,321.0 L632.5,309.8 L632.8,295.5 L633.1,298.2 L633.4,293.6 L633.7,295.0 L634.0,296.4 L634.3,310.0 L634.6,328.5 L634.9,367.8 L635.2,403.5 L635.5,427.1 L635.8,403.8 L636.1,366.4 L636.4,321.9 L636.7,298.4 L637.0,282.4 L637.3,279.2 L637.6,268.8 L637.9,270.6 L638.2,265.4 L638.5,264.9 L638.8,263.4 L639.1,264.8 L639.4,259.0 L639.7,110.7 L640.0,264.6 L640.3,272.2 L640.6,278.3 L640.9,306.8 L641.2,339.1 L641.5,380.4 L641.8,397.6 L642.1,382.3 L642.3,129.0 L642.7,303.0 L643.0,274.3 L643.3,267.2 L643.6,254.2 L643.9,260.2 L644.2,253.7 L644.5,256.4 L644.8,255.8 L645.1,263.3 L645.4,271.8 L645.7,296.3 L646.0,320.6 L646.3,345.7 L646.6,335.7 L646.9,316.0 L647.2,286.0 L647.5,274.1 L647.8,259.4 L648.1,261.8 L648.4,254.9 L648.7,259.1 L649.0,259.1 L649.3,270.2 L649.6,276.9 L649.9,304.5 L650.2,334.4 L650.5,380.2 L650.8,406.6 L651.1,414.7 L651.4,384.3 L651.7,350.9 L651.9,158.0 L652.3,281.1 L652.6,260.6 L652.9,255.5 L653.2,244.1 L653.5,245.6 L653.8,237.3 L654.1,237.9 L654.4,232.6 L654.7,232.6 L655.0,230.1 L655.3,230.3 L655.6,227.0 L655.9,229.0 L656.2,226.2 L656.5,230.6 L656.8,225.9 L657.1,227.9 L657.4,223.5 L657.7,229.9 L658.0,225.6 L658.3,228.3 L658.6,225.6 L658.9,229.7 L659.2,226.2 L659.5,229.3 L659.8,228.5 L660.1,230.1 L660.4,226.3 L660.7,231.6 L661.0,227.0 L661.3,229.6 L661.6,229.7 L661.9,233.2 L662.2,229.6 L662.5,233.1 L662.8,232.1 L663.2,200.0 L663.4,232.8 L663.7,238.1 L664.0,235.7 L664.3,243.3 L664.6,245.7 L664.9,252.4 L665.2,257.2 L665.5,271.5 L665.8,280.2 L666.1,302.2 L666.5,80.0 L666.7,337.4 L667.0,347.9 L667.3,364.1 L667.6,364.9 L667.9,363.0 L668.2,349.7 L668.5,337.4 L668.8,317.9 L669.1,305.1 L669.4,286.4 L669.7,278.3 L670.0,261.1 L670.3,256.9 L670.6,248.8 L670.9,247.4 L671.2,240.9 L671.5,242.3 L671.8,237.5 L672.1,240.4 L672.4,234.4 L672.7,239.1 L673.0,234.7 L673.3,236.5 L673.6,230.7 L673.9,232.3 L674.2,229.0 L674.5,230.5 L674.8,233.5 L675.1,229.5 L675.4,224.6 L675.7,229.5 L676.0,223.3 L676.3,233.1 L676.6,221.9 L676.9,235.1 L677.2,223.1 L677.5,225.9 L677.8,220.9 L678.1,224.3 L678.4,218.9 L678.7,224.3 L679.0,219.9 L679.3,223.6 L679.6,219.3 L679.9,224.7 L680.2,219.1 L680.5,223.6 L680.8,219.9 L681.1,222.3 L681.4,222.2 L681.7,223.2 L682.0,219.8 L682.3,224.3 L682.6,219.8 L682.9,224.0 L683.2,220.0 L683.5,223.7 L683.8,222.0 L684.1,227.1 L684.4,222.8 L684.7,228.6 L685.0,223.8 L685.3,228.8 L685.6,224.1 L685.9,226.5 L686.2,224.2 L686.5,229.0 L686.8,226.1 L687.1,229.5 L687.4,228.5 L687.7,231.5 L688.0,231.1 L688.3,243.7 L688.6,232.9 L688.9,236.3 L689.2,234.9 L689.5,239.7 L689.8,240.5 L690.1,245.5 L690.4,243.2 L690.7,249.4 L691.0,247.2 L691.3,257.5 L691.6,259.0 L691.9,269.4 L692.2,283.5 L692.5,291.6 L692.8,303.3 L693.1,324.4 L693.4,335.7 L693.7,348.6 L694.0,353.0 L694.2,80.0 L694.6,345.3 L694.9,341.6 L695.2,321.6 L695.5,311.5 L695.8,293.2 L696.1,281.3 L696.4,268.7 L696.7,264.6 L697.0,252.4 L697.3,251.2 L697.6,247.0 L697.9,247.0 L698.2,242.5 L698.5,245.1 L698.8,239.1 L699.1,240.5 L699.4,236.8 L699.7,241.2 L700.0,236.1 L700.3,239.1 L700.6,232.8 L700.9,237.1 L701.2,235.4 L701.5,235.3 L701.8,230.4 L702.1,235.4 L702.4,231.7 L702.7,233.9 L703.0,231.5 L703.3,236.7 L703.6,229.9 L703.9,231.9 L704.2,226.6 L704.5,232.3 L704.8,228.6 L705.1,232.4 L705.4,225.8 L705.7,230.7 L706.0,224.8 L706.3,231.2 L706.6,223.0 L706.9,228.7 L707.2,225.5 L707.5,229.8 L707.8,163.0 L708.1,230.0 L708.4,222.7 L708.7,226.6 L709.0,224.1 L709.3,227.8 L709.6,224.9 L709.9,227.8 L710.2,223.9 L710.5,226.6 L710.8,223.7 L711.1,235.7 L711.4,224.2 L711.7,228.0 L712.0,224.2 L712.3,228.4 L712.6,223.6 L712.9,227.6 L713.2,224.5 L713.5,225.6 L713.8,221.8 L714.1,228.3 L714.4,222.1 L714.7,225.2 L715.0,220.8 L715.3,226.4 L715.6,224.0 L715.9,226.3 L716.2,223.0 L716.5,225.0 L716.8,221.1 L717.1,227.3 L717.4,222.8 L717.7,226.3 L718.0,222.9 L718.3,226.8 L718.6,223.6 L718.9,226.2 L719.2,221.3 L719.5,226.2 L719.8,224.7 L720.1,227.1 L720.4,223.6 L720.7,228.0 L721.0,226.1 L721.3,228.8 L721.6,224.7 L721.9,232.3 L722.2,225.8 L722.5,229.5 L722.8,225.9 L723.1,230.6 L723.4,226.7 L723.7,232.0 L724.0,227.5 L724.3,232.3 L724.6,227.8 L724.9,230.0 L725.2,226.7 L725.5,231.5 L725.8,227.7 L726.1,232.7 L726.4,226.6 L726.7,231.3 L727.0,226.5 L727.3,230.4 L727.6,227.3 L727.9,230.0 L728.2,226.3 L728.5,231.0 L728.8,223.5 L729.1,231.1 L729.4,225.4 L729.7,230.8 L730.0,225.8 L730.3,230.6 L730.6,225.9 L730.9,229.9 L731.2,223.1 L731.5,230.2 L731.8,225.3 L732.1,230.1 L732.4,225.7 L732.7,230.8 L733.0,228.1 L733.3,230.3 L733.6,228.7 L733.9,230.5 L734.2,225.2 L734.5,230.2 L734.8,227.1 L735.1,230.7 L735.4,224.5 L735.7,232.7 L736.0,227.8 L736.3,232.0 L736.6,226.4 L736.9,232.1 L737.2,227.4 L737.5,233.5 L737.8,230.0 L738.1,232.6 L738.4,230.2 L738.7,235.0 L739.0,228.5 L739.3,233.9 L739.6,230.6 L739.9,235.7 L740.2,232.7 L740.5,235.9 L740.8,232.6 L741.1,238.2 L741.4,233.0 L741.7,238.9 L742.0,237.8 L742.3,242.0 L742.6,239.7 L742.9,244.7 L743.2,241.8 L743.5,248.6 L743.8,246.6 L744.1,254.1 L744.4,256.7 L744.7,267.3 L745.0,272.6 L745.3,287.1 L745.6,294.1 L745.9,312.4 L746.2,320.4 L746.5,335.3 L746.8,335.8 L747.0,80.0 L747.4,333.2 L747.7,325.6 L748.0,312.4 L748.3,301.4 L748.6,284.7 L748.9,276.8 L749.2,261.6 L749.5,260.9 L749.8,259.8 L750.1,249.4 L750.4,242.7 L750.7,245.4 L751.0,240.1 L751.3,240.3 L751.6,235.1 L751.9,239.8 L752.2,235.7 L752.5,247.6 L752.8,236.9 L753.1,240.2 L753.4,236.5 L753.7,239.7 L754.0,235.6 L754.3,251.8 L754.6,236.9 L754.9,239.1 L755.2,237.0 L755.5,239.8 L755.8,233.8 L756.1,239.1 L756.5,80.0 L756.7,241.8 L757.0,236.4 L757.3,238.6 L757.6,234.3 L757.9,237.8 L758.2,236.5 L758.5,239.8 L758.8,235.1 L759.1,241.5 L759.4,234.5 L759.7,238.8 L760.1,80.0 L760.3,239.9 L760.6,235.7 L760.9,239.5 L761.2,235.9 L761.5,241.4 L761.8,238.7 L762.1,251.8 L762.4,253.0 L762.7,243.6 L763.0,238.1 L763.3,239.0 L763.6,237.6 L763.9,241.0 L764.2,236.6 L764.5,240.0 L764.8,237.6 L765.1,239.8 L765.4,236.1 L765.7,238.6 L766.0,237.0 L766.3,242.3 L766.6,235.2 L766.9,237.4 L767.2,233.2 L767.5,238.8 L767.8,235.2 L768.1,236.5 L768.4,234.8 L768.7,235.2 L769.0,232.1 L769.3,234.1 L769.6,230.3 L769.9,233.9 L770.2,240.9 L770.5,233.3 L770.8,231.0 L771.1,234.9 L771.4,230.3 L771.7,232.0 L772.0,230.6 L772.3,233.0 L772.6,230.1 L772.9,233.8 L773.2,229.3 L773.5,233.7 L773.8,230.6 L774.1,233.9 L774.4,228.4 L774.7,234.1 L775.0,232.9 L775.3,251.2 L775.6,251.6 L775.9,242.3 L776.2,232.6 L776.5,238.3 L776.8,231.8 L777.1,234.5 L777.4,230.1 L777.7,232.4 L778.0,230.9 L778.3,232.1 L778.6,229.1 L778.9,233.7 L779.2,230.8 L779.5,234.4 L779.8,239.8 L780.1,250.1 L780.4,233.8 L780.7,233.9 L781.0,229.2 L781.3,230.9 L781.6,227.8 L781.9,230.1 L782.2,224.4 L782.5,229.5 L782.8,224.8 L783.1,230.3 L783.4,225.9 L783.7,230.6 L784.0,228.1 L784.3,230.8 L784.6,229.9 L784.9,245.5 L785.2,238.7 L785.5,234.5 L785.8,226.2 L786.1,228.7 L786.4,226.5 L786.7,235.4 L787.0,225.7 L787.3,228.5 L787.6,226.8 L787.9,231.8 L788.2,226.7 L788.5,230.0 L788.8,225.1 L789.1,229.0 L789.4,224.8 L789.7,228.6 L790.0,224.5 L790.3,228.6 L790.6,229.9 L790.9,226.4 L791.2,222.7 L791.5,224.7 L791.8,221.9 L792.1,222.6 L792.4,220.2 L792.7,223.9 L793.0,217.2 L793.3,224.5 L793.6,219.4 L793.9,222.6 L794.2,219.1 L794.5,225.4 L794.8,218.8 L795.1,221.7 L795.4,226.6 L795.7,221.3 L796.0,216.9 L796.3,220.6 L796.6,217.8 L796.9,220.5 L797.2,216.8 L797.5,219.7 L797.8,215.3 L798.1,219.5 L798.4,217.4 L798.7,218.7 L799.0,213.4 L799.3,219.3 L799.6,213.7 L799.9,217.5 L800.2,214.8 L800.5,217.3 L800.8,220.4 L801.1,215.6 L801.4,211.0 L801.7,215.5 L802.0,210.9 L802.3,211.3 L802.6,208.3 L802.9,212.9 L803.2,209.0 L803.5,210.0 L803.8,206.0 L804.1,210.4 L804.4,204.6 L804.7,208.2 L805.0,203.3 L805.3,209.5 L805.6,205.6 L805.9,208.4 L806.2,205.2 L806.5,211.4 L806.8,204.6 L807.1,211.5 L807.4,208.0 L807.7,210.8 L808.0,208.4 L808.3,209.8 L808.6,206.1 L808.9,210.4 L809.2,206.8 L809.5,213.7 L809.8,209.9 L810.1,210.9 L810.4,207.8 L810.7,212.2 L811.0,208.6 L811.3,212.1 L811.6,221.3 L811.9,213.1 L812.2,211.2 L812.5,216.0 L812.8,209.6 L813.1,213.7 L813.4,210.4 L813.7,217.3 L814.0,210.9 L814.3,216.8 L814.6,212.9 L814.9,216.0 L815.2,212.3 L815.5,214.7 L815.8,212.3 L816.1,217.1 L816.4,211.4 L816.7,215.9 L817.0,210.5 L817.3,217.7 L817.6,212.4 L817.9,216.7 L818.2,213.5 L818.5,216.6 L818.8,214.2 L819.1,218.4 L819.4,223.8 L819.7,217.9 L820.0,212.3 L820.3,217.4 L820.6,213.6 L820.9,215.6 L821.2,213.6 L821.5,215.5 L821.8,211.8 L822.1,214.8 L822.4,211.8 L822.7,214.3 L823.0,210.9 L823.3,223.3 L823.6,211.0 L823.9,213.3 L824.2,209.3 L824.5,212.1 L824.8,208.4 L825.1,212.1 L825.4,207.5 L825.7,213.3 L826.0,206.5 L826.3,211.3 L826.6,207.5 L826.9,214.2 L827.2,208.1 L827.5,213.8 L827.8,210.2 L828.1,213.6 L828.4,208.2 L828.7,215.4 L829.0,209.8 L829.3,214.7 L829.6,211.9 L829.9,214.7 L830.2,211.3 L830.5,213.4 L830.8,210.6 L831.1,215.3 L831.4,211.1 L831.7,216.8 L832.0,212.8 L832.3,215.6 L832.6,211.5 L832.9,213.3 L833.2,211.0 L833.5,215.5 L833.8,212.1 L834.1,215.7 L834.4,212.1 L834.7,216.8 L835.0,209.3 L835.3,217.8 L835.6,216.5 L835.9,226.9 L836.2,230.9 L836.5,245.0 L836.8,236.7 L837.2,80.0 L837.4,219.6 L837.7,216.1 L838.0,212.7 L838.3,214.1 L838.6,210.2 L838.9,215.1 L839.2,210.5 L839.5,212.9 L839.8,207.2 L840.1,218.5 L840.4,206.8 L840.7,214.1 L841.0,207.7 L841.3,212.5 L841.6,205.4 L841.9,210.2 L842.2,205.9 L842.5,208.6 L842.8,206.8 L843.1,208.3 L843.4,205.2 L843.7,208.9 L844.0,209.8 L844.3,207.7 L844.6,202.0 L844.9,208.9 L845.2,204.0 L845.5,205.6 L845.8,202.9 L846.1,211.3 L846.4,203.4 L846.7,209.6 L847.0,202.8 L847.3,208.5 L847.6,201.8 L847.9,206.7 L848.2,205.6 L848.5,206.7 L848.8,204.2 L849.1,209.4 L849.4,205.4 L849.7,208.2 L850.0,206.7 L850.3,208.5 L850.6,207.7 L850.9,212.0 L851.2,207.8 L851.5,210.8 L851.8,210.2 L852.1,212.4 L852.4,209.9 L852.7,214.2 L853.0,207.6 L853.3,213.2 L853.6,210.8 L853.9,212.8 L854.2,211.4 L854.5,212.2 L854.8,208.7 L855.1,211.8 L855.4,210.5 L855.7,214.3 L856.0,210.0 L856.3,212.4 L856.6,211.2 L856.9,216.8 L857.2,211.9 L857.5,214.3 L857.8,211.9 L858.1,218.5 L858.4,211.9 L858.7,216.7 L859.0,212.9 L859.3,215.9 L859.6,214.3 L859.9,218.5 L860.2,213.7 L860.5,217.2 L860.8,212.2 L861.1,217.1 L861.4,211.8 L861.7,218.1 L862.0,214.5 L862.3,219.3 L862.6,214.0 L862.9,220.4 L863.2,213.7 L863.5,216.3 L863.8,212.3 L864.1,215.7 L864.4,213.3 L864.7,216.9 L865.0,211.9 L865.3,217.2 L865.6,213.7 L865.9,218.5 L866.2,212.9 L866.5,216.4 L866.8,212.2 L867.1,217.9 L867.4,210.9 L867.7,214.4 L868.0,211.0 L868.3,214.1 L868.5,163.0 L868.9,223.3 L869.2,211.4 L869.5,217.6 L869.8,211.7 L870.1,214.8 L870.4,210.0 L870.7,214.3 L871.0,212.5 L871.3,216.0 L871.6,212.7 L871.9,215.1 L872.2,212.1 L872.5,215.5 L872.8,212.1 L873.1,215.0 L873.4,211.4 L873.7,217.0 L874.0,212.1 L874.3,212.5 L874.6,214.1 L874.9,214.8 L875.2,207.5 L875.5,210.9 L875.8,207.1 L876.1,210.5 L876.4,207.1 L876.7,211.1 L877.0,204.6 L877.3,212.6 L877.6,205.7 L877.9,209.4 L878.2,206.0 L878.5,210.2 L878.8,205.3 L879.1,208.2 L879.4,205.4 L879.7,210.6 L880.0,205.4 L880.3,209.9 L880.6,205.8 L880.9,209.3 L881.2,208.3 L881.5,211.5 L881.8,208.1 L882.1,212.7 L882.4,210.8 L882.7,222.1 L883.0,212.9 L883.3,216.2 L883.6,212.6 L883.9,216.3 L884.2,214.2 L884.5,220.9 L884.8,217.4 L885.1,222.8 L885.4,217.6 L885.7,223.8 L886.0,222.8 L886.3,228.5 L886.6,236.2 L886.8,80.0 L887.2,264.5 L887.5,274.3 L887.8,265.8 L888.2,80.0 L888.4,233.3 L888.7,227.1 L889.0,218.8 L889.3,220.0 L889.6,216.0 L889.9,218.8 L890.2,214.3 L890.5,216.7 L890.8,211.6 L891.1,214.3 L891.4,211.3 L891.7,213.5 L892.0,211.5 L892.3,213.7 L892.6,210.1 L892.9,216.2 L893.2,209.6 L893.5,213.9 L893.8,209.6 L894.1,211.9 L894.4,209.2 L894.7,214.2 L895.0,207.9 L895.2,80.0 L895.6,208.2 L895.9,209.9 L896.2,206.4 L896.5,209.9 L896.8,205.0 L897.1,209.4 L897.4,206.0 L897.7,209.5 L898.0,202.0 L898.3,206.7 L898.6,203.9 L898.9,80.0 L899.2,204.5 L899.5,206.4 L899.8,202.0 L900.1,205.9 L900.4,200.1 L900.7,206.9 L901.0,202.1 L901.3,205.7 L901.6,199.8 L901.9,204.8 L902.2,201.1 L902.5,207.9 L902.8,200.8 L903.1,208.0 L903.4,204.2 L903.7,207.2 L904.0,203.7 L904.3,207.9 L904.6,202.0 L904.9,208.8 L905.2,202.5 L905.5,205.6 L905.8,201.9 L906.1,205.5 L906.4,202.0 L906.7,208.4 L907.0,203.0 L907.3,204.4 L907.6,200.5 L907.9,206.9 L908.2,200.7 L908.5,206.8 L908.8,201.6 L909.1,201.8 L909.4,198.6 L909.7,202.7 L910.0,198.2 L910.3,200.5 L910.6,198.6 L910.9,202.2 L911.2,197.0 L911.5,202.4 L911.8,198.9 L912.1,204.0 L912.4,196.8 L912.7,200.2 L913.0,198.9 L913.3,200.8 L913.6,198.8 L913.9,203.1 L914.2,196.1 L914.5,204.6 L914.8,199.2 L915.1,203.3 L915.4,199.4 L915.7,205.5 L916.0,198.5 L916.3,204.1 L916.6,200.2 L916.9,202.7 L917.2,199.5 L917.5,203.9 L917.8,200.8 L918.1,204.0 L918.4,198.5 L918.7,210.8 L919.0,198.4 L919.3,202.1 L919.6,198.9 L919.9,203.1 L920.2,199.9 L920.5,203.1 L920.8,200.4 L921.1,203.8 L921.4,199.1 L921.6,108.0 L922.0,200.6 L922.3,206.2 L922.6,201.5 L922.9,205.7 L923.2,201.1 L923.5,208.1 L923.8,199.2 L924.1,205.6 L924.4,203.5 L924.7,208.2 L925.0,203.2 L925.3,208.3 L925.6,205.1 L926.0,80.0 L926.2,201.8 L926.5,208.3 L926.8,202.2 L927.1,215.3 L927.4,205.1 L927.7,208.1 L928.0,203.8 L928.3,209.4 L928.6,202.7 L928.9,205.7 L929.2,201.6 L929.5,206.8 L929.8,202.7 L930.1,205.2 L930.4,211.2 L930.7,206.3 L931.0,202.1 L931.3,202.5 L931.6,200.5 L931.9,205.2 L932.2,201.3 L932.5,203.4 L932.8,199.0 L933.1,202.2 L933.4,200.5 L933.7,202.9 L934.0,199.0 L934.3,204.5 L934.6,200.2 L934.9,202.6 L935.2,198.1 L935.5,204.6 L935.8,197.6 L936.1,201.4 L936.4,198.0 L936.7,203.1 L937.0,198.0 L937.3,201.4 L937.6,201.0 L937.9,202.7 L938.2,198.2 L938.5,201.5 L938.8,145.0 L939.1,204.7 L939.4,199.4 L939.7,201.7 L940.0,200.2 L940.3,202.6 L940.6,199.6 L940.9,202.8 L941.2,199.4 L941.5,202.7 L941.8,198.7 L942.1,204.7 L942.4,198.1 L942.7,201.7 L943.0,199.2 L943.3,213.5 L943.6,199.9 L943.9,204.9 L944.5,199.0" fill="none" stroke="#3f97ec" stroke-width="1.3" stroke-linejoin="round"/>
<path d="M944.5,199.0 L951.0,194.4 L956.4,196.2 L960.0,191.8 L963.7,194.4 L967.4,191.8 L972.9,198.0 L976.5,207.2 L982.0,206.5 L985.7,209.0 L990.0,207.2 L994.3,206.1 L998.6,214.7 L1002.9,212.6 L1006.1,216.9 L1008.3,211.5 L1009.8,227.6 L1010.9,210.4 L1011.9,241.6 L1013.2,201.8 L1015.4,210.4 L1018.0,240.5 L1019.5,197.5 L1022.3,227.6 L1024.5,200.0 L1026.5,206.0 L1028.7,225.5 L1031.5,204.0 L1035.6,219.0 L1036.9,193.2 L1038.4,133.0 L1039.5,80.0 L1040.5,80.0 L1042.3,154.5 L1043.8,201.8 L1045.5,210.4 L1047.6,236.2 L1049.8,210.4 L1053.4,206.1 L1056.7,212.6 L1059.2,206.1 L1060.5,154.5 L1061.6,80.0 L1064.2,80.0 L1065.3,154.5 L1066.3,199.7 L1069.6,204.0 L1073.9,201.8 L1078.2,196.5 L1082.5,191.1 L1086.0,193.0 L1089.7,196.0 L1091.6,189.0 L1097.0,187.0 L1101.0,190.0 L1106.2,189.0 L1110.0,186.5 L1113.5,188.0 L1117.2,185.2 L1119.5,170.0 L1121.3,140.0 L1122.7,128.5 L1124.0,140.0 L1125.8,170.0 L1128.2,186.0 L1133.0,189.5 L1139.2,190.7 L1143.0,188.5 L1146.5,189.0 L1152.0,191.0 L1157.5,189.6 L1163.0,191.5 L1168.5,192.5 L1174.0,189.5 L1179.5,188.0 L1187.0,188.0" fill="none" stroke="#4a9dee" stroke-opacity="0.9" stroke-width="0.9" stroke-linejoin="round"/>
<path d="M622.1,94 L622.1,500" fill="none" stroke="#3f97ec" stroke-width="1.3"/>
<circle cx="186.2" cy="569.1" r="14.9" fill="#378ee6" fill-opacity="0.36" stroke="#378ee6" stroke-opacity="0.40" stroke-width="2.8"/>
<circle cx="332.1" cy="536.8" r="14.9" fill="#378ee6" fill-opacity="0.36" stroke="#378ee6" stroke-opacity="0.40" stroke-width="2.8"/>
<circle cx="500.2" cy="499.8" r="14.9" fill="#378ee6" fill-opacity="0.36" stroke="#378ee6" stroke-opacity="0.40" stroke-width="2.8"/>
<circle cx="536.1" cy="481.4" r="14.9" fill="#378ee6" fill-opacity="0.36" stroke="#378ee6" stroke-opacity="0.40" stroke-width="2.8"/>
<circle cx="587.4" cy="453.1" r="14.9" fill="#378ee6" fill-opacity="0.36" stroke="#378ee6" stroke-opacity="0.40" stroke-width="2.8"/>
<circle cx="621.8" cy="340.6" r="14.9" fill="#378ee6" fill-opacity="0.36" stroke="#378ee6" stroke-opacity="0.40" stroke-width="2.8"/>
<circle cx="635.5" cy="312.7" r="14.9" fill="#378ee6" fill-opacity="0.36" stroke="#378ee6" stroke-opacity="0.40" stroke-width="2.8"/>
<circle cx="756.1" cy="203.6" r="14.9" fill="#378ee6" fill-opacity="0.36" stroke="#378ee6" stroke-opacity="0.40" stroke-width="2.8"/>
<circle cx="908.7" cy="180.0" r="14.9" fill="#378ee6" fill-opacity="0.36" stroke="#378ee6" stroke-opacity="0.40" stroke-width="2.8"/>
<circle cx="1029.3" cy="194.4" r="14.9" fill="#378ee6" fill-opacity="0.36" stroke="#378ee6" stroke-opacity="0.40" stroke-width="2.8"/>
<circle cx="1091.6" cy="187" r="14.9" fill="#378ee6" fill-opacity="0.36" stroke="#378ee6" stroke-opacity="0.40" stroke-width="2.8"/>
<circle cx="1126.4" cy="189" r="14.9" fill="#378ee6" fill-opacity="0.36" stroke="#378ee6" stroke-opacity="0.40" stroke-width="2.8"/>
<path d="M189,586.3 L189,637.3" stroke="#000" stroke-width="2"/>
<path d="M331.9,494 L331.9,530.5" stroke="#000" stroke-width="2"/>
<path d="M537.1,518.1 L537.1,577.1" stroke="#000" stroke-width="2"/>
<path d="M589.2,434.1 L589.2,507.8" stroke="#000" stroke-width="2"/>
<path d="M633.9,352.7 L633.9,383" stroke="#000" stroke-width="2"/>
<rect x="181" y="600.3" width="16" height="16" fill="#fff" stroke="#000" stroke-width="2"/>
<rect x="323.9" y="504" width="16" height="16" fill="#fff" stroke="#000" stroke-width="2"/>
<rect x="492.2" y="483.8" width="16" height="16" fill="#fff" stroke="#000" stroke-width="2"/>
<rect x="529.1" y="538.6" width="16" height="16" fill="#fff" stroke="#000" stroke-width="2"/>
<rect x="581.2" y="460.8" width="16" height="16" fill="#fff" stroke="#000" stroke-width="2"/>
<rect x="614.7" y="311.4" width="16" height="16" fill="#fff" stroke="#000" stroke-width="2"/>
<rect x="625.9" y="359" width="16" height="16" fill="#fff" stroke="#000" stroke-width="2"/>
<rect x="748.1" y="195.6" width="16" height="16" fill="#fff" stroke="#000" stroke-width="2"/>
<rect x="901.9" y="174.7" width="16" height="16" fill="#fff" stroke="#000" stroke-width="2"/>
<rect x="1022.4000000000001" y="189.3" width="16" height="16" fill="#fff" stroke="#000" stroke-width="2"/>
<rect x="1084.3" y="177.2" width="16" height="16" fill="#fff" stroke="#000" stroke-width="2"/>
<rect x="1120.9" y="180.2" width="16" height="16" fill="#fff" stroke="#000" stroke-width="2"/>
</g>
<rect x="107.6" y="94.0" width="1079.7" height="624.0" fill="none" stroke="#000" stroke-width="4.1"/>
<path d="M193.0,718.0 V700.6 M432.5,718.0 V700.6 M757.5,718.0 V700.6 M947.6,718.0 V700.6 M1082.4,718.0 V700.6 M265.3,718.0 V706.4 M327.9,718.0 V706.4 M383.1,718.0 V706.4 M330.2,94.0 V111.4 M520.3,94.0 V111.4 M655.2,94.0 V111.4 M845.3,94.0 V111.4 M1084.7,94.0 V111.4 M759.8,94.0 V105.6 M917.5,94.0 V105.6 M980.1,94.0 V105.6 M1035.3,94.0 V105.6 M107.6,148.5 H125.0 M107.6,213.0 H125.0 M107.6,292.0 H125.0 M107.6,393.8 H125.0 M107.6,537.2 H125.0 M1187.3,98.2 H1175.7 M1187.3,130.7 H1175.7 M1187.3,163.3 H1169.8999999999999 M1187.3,195.9 H1175.7 M1187.3,228.5 H1175.7 M1187.3,261.1 H1175.7 M1187.3,293.7 H1175.7 M1187.3,326.2 H1169.8999999999999 M1187.3,358.8 H1175.7 M1187.3,391.4 H1175.7 M1187.3,424.0 H1175.7 M1187.3,456.6 H1175.7 M1187.3,489.2 H1169.8999999999999 M1187.3,521.7 H1175.7 M1187.3,554.3 H1175.7 M1187.3,586.9 H1175.7 M1187.3,619.5 H1175.7 M1187.3,652.1 H1169.8999999999999 M1187.3,684.7 H1175.7 M1187.3,717.2 H1175.7" stroke="#000" stroke-width="3.2" fill="none"/>
<text class="a" font-size="28.1" transform="translate(191.5,755.9) scale(1,1.09)" text-anchor="middle">0.6</text>
<text class="a" font-size="28.1" transform="translate(432.1,755.9) scale(1,1.09)" text-anchor="middle">1.0</text>
<text class="a" font-size="28.1" transform="translate(757.1,755.9) scale(1,1.09)" text-anchor="middle">2.0</text>
<text class="a" font-size="28.1" transform="translate(947.2,755.9) scale(1,1.09)" text-anchor="middle">3.0</text>
<text class="a" font-size="28.1" transform="translate(1082.0,755.9) scale(1,1.09)" text-anchor="middle">4.0</text>
<text class="a" font-size="28.1" transform="translate(329.8,71.2) scale(1,1.09)" text-anchor="middle">0.2</text>
<text class="a" font-size="28.1" transform="translate(519.9,71.2) scale(1,1.09)" text-anchor="middle">0.3</text>
<text class="a" font-size="28.1" transform="translate(654.8,71.2) scale(1,1.09)" text-anchor="middle">0.4</text>
<text class="a" font-size="28.1" transform="translate(844.9,71.2) scale(1,1.09)" text-anchor="middle">0.6</text>
<text class="a" font-size="28.1" transform="translate(1084.3,71.2) scale(1,1.09)" text-anchor="middle">1.0</text>
<text class="a" font-size="28.1" transform="translate(89.2,104.8) scale(1,1.09)" text-anchor="end">0.7</text>
<text class="a" font-size="28.1" transform="translate(89.2,159.3) scale(1,1.09)" text-anchor="end">0.6</text>
<text class="a" font-size="28.1" transform="translate(89.2,223.8) scale(1,1.09)" text-anchor="end">0.5</text>
<text class="a" font-size="28.1" transform="translate(89.2,302.8) scale(1,1.09)" text-anchor="end">0.4</text>
<text class="a" font-size="28.1" transform="translate(89.2,404.6) scale(1,1.09)" text-anchor="end">0.3</text>
<text class="a" font-size="28.1" transform="translate(89.2,548.0) scale(1,1.09)" text-anchor="end">0.2</text>
<text class="a" font-size="29.0" transform="translate(1203.3,174.0) scale(1,1.09)" text-anchor="start">24.5</text>
<text class="a" font-size="29.0" transform="translate(1203.3,336.9) scale(1,1.09)" text-anchor="start">25.0</text>
<text class="a" font-size="29.0" transform="translate(1203.3,499.9) scale(1,1.09)" text-anchor="start">25.5</text>
<text class="a" font-size="29.0" transform="translate(1203.3,662.8) scale(1,1.09)" text-anchor="start">26.0</text>
<text x="553.0" y="23.9" class="a t"><tspan class="di" font-size="28.8">λ</tspan><tspan class="d" font-size="20.5" x="570.4" y="27.2">restframe</tspan><tspan x="679.6" y="23.9">(</tspan><tspan class="di" font-size="28.8" x="688.5" y="23.9">µ</tspan><tspan x="708.2" y="23.9">m)</tspan></text>
<text x="556.6" y="780" class="a t"><tspan class="di" font-size="28.8">λ</tspan><tspan class="d" font-size="20.8" x="572.4" y="785.8">observed</tspan><tspan x="676.8" y="780">(</tspan><tspan class="di" font-size="28.8" x="684.8" y="780">µ</tspan><tspan x="704.6" y="780">m)</tspan></text>
<g transform="translate(23.9,458.2) rotate(-90)"><text class="a t" transform="scale(1,1.07)" x="0" y="0">F</text><text x="0" y="0" class="a t"><tspan class="di" font-size="20.2" x="18.2" y="4.6">ν</tspan><tspan x="35.9" y="0">(</tspan><tspan class="di" font-size="28.8" x="44.6" y="0">µ</tspan><tspan x="63.4" y="0">Jy</tspan><tspan x="93.4" y="0">)</tspan></text></g>
<g transform="translate(1295.7,405.3) rotate(-90) scale(1,1.03)"><text x="0" y="0" class="a t" text-anchor="middle">AB magnitude</text></g>
<text class="d" fill="#2e8ae0" font-size="28.8" x="701" y="370.8"><tspan class="di">z</tspan><tspan font-size="20.2" x="717.3" y="375.40000000000003">phot, EAZYpy</tspan><tspan x="859.2" y="370.8">=</tspan><tspan x="888.3" y="370.8">3.03</tspan><tspan font-size="20.2" x="954.3" y="359.1">+0.04</tspan><tspan font-size="20.2" x="954.3" y="378.2">−0.05</tspan></text>
<text class="d" fill="#f2a322" font-size="28.8" x="701" y="433.1"><tspan class="di">z</tspan><tspan font-size="20.2" x="717.3" y="437.70000000000005">phot, DENSE BASIS</tspan><tspan x="917.0" y="433.1">=</tspan><tspan x="946.0" y="433.1">3.14</tspan><tspan font-size="20.2" x="1012.5" y="421.40000000000003">+0.07</tspan><tspan font-size="20.2" x="1012.5" y="440.5">−0.19</tspan></text>
<text class="d" fill="#2b8a2b" font-size="28.8" x="701" y="495.2"><tspan class="di">z</tspan><tspan font-size="20.2" x="717.3" y="499.8">phot, PROSPECTOR</tspan><tspan x="917.0" y="495.2">=</tspan><tspan x="947.0" y="495.2">2.90</tspan><tspan font-size="20.2" x="1013.5" y="483.5">+0.04</tspan><tspan font-size="20.2" x="1013.5" y="502.59999999999997">−0.04</tspan></text>
<rect x="188.3" y="195.1" width="324.09999999999997" height="179.00000000000003" fill="#fff"/>
<defs><clipPath id="ci"><rect x="188.3" y="195.1" width="324.09999999999997" height="179.00000000000003"/></clipPath></defs>
<g clip-path="url(#ci)">
<path d="M424.4,373.0 L426.7,345.7 L428.5,291.1 L430.5,245.5 L432.4,223.9 L434.6,234.2 L436.2,268.3 L438.1,313.8 L439.9,345.7 L442.6,373.0Z" fill="#4a9be8" fill-opacity="0.36" stroke="#4a9be8" stroke-width="1.7" stroke-linejoin="round"/>
<path d="M401.6,373.0 L409.6,366.2 L418.7,348.0 L427.8,334.3 L433.5,323.0 L436.9,302.5 L439.7,256.9 L442.6,223.9 L444.9,245.5 L448.3,279.7 L452.9,325.2 L457.4,359.4 L459.7,373.0Z" fill="#f5b133" fill-opacity="0.3" stroke="#f5b133" stroke-width="1.7" stroke-linejoin="round"/>
<path d="M413.7,373.0 L416.4,345.7 L418.7,302.5 L421.0,245.5 L422.6,223.9 L424.4,245.5 L426.2,302.5 L428.3,345.7 L431.2,373.0Z" fill="#37a037" fill-opacity="0.37" stroke="#37a037" stroke-width="1.7" stroke-linejoin="round"/>
</g>
<rect x="188.3" y="195.1" width="324.09999999999997" height="179.00000000000003" fill="none" stroke="#000" stroke-width="3.8"/>
<path d="M188.3,195.1 V211.6 M188.3,374.1 V357.6 M269.3,195.1 V211.6 M269.3,374.1 V357.6 M350.4,195.1 V211.6 M350.4,374.1 V357.6 M431.4,195.1 V211.6 M431.4,374.1 V357.6 M512.4,195.1 V211.6 M512.4,374.1 V357.6" stroke="#000" stroke-width="4.0" fill="none"/>
<text class="a i" x="188.3" y="174.7" text-anchor="middle">13.8</text>
<text class="a i" x="188.3" y="406.8" text-anchor="middle">0</text>
<text class="a i" x="269.3" y="174.7" text-anchor="middle">5.9</text>
<text class="a i" x="269.3" y="406.8" text-anchor="middle">1</text>
<text class="a i" x="350.4" y="174.7" text-anchor="middle">3.3</text>
<text class="a i" x="350.4" y="406.8" text-anchor="middle">2</text>
<text class="a i" x="431.4" y="174.7" text-anchor="middle">2.1</text>
<text class="a i" x="431.4" y="406.8" text-anchor="middle">3</text>
<text class="a i" x="512.4" y="174.7" text-anchor="middle">1.5</text>
<text class="a i" x="512.4" y="406.8" text-anchor="middle">4</text>
<text class="a" font-size="25.05" x="353.2" y="139.7" text-anchor="middle">Age of the Universe (Gyr)</text>
<text class="a" font-size="25.3" x="350.6" y="446.6" text-anchor="middle">Redshift</text>
<g transform="translate(165.6,286.4) rotate(-90)"><text class="a" font-size="24.7" x="0" y="0" text-anchor="middle">Photo-z PDF</text></g>
<path d="M207,221.5 H248.6" stroke="#4a9be8" stroke-width="1.4"/>
<text class="a" font-size="20.8" x="265.9" y="228.6">EAZYpy</text>
<path d="M207,251 H248.6" stroke="#f5b133" stroke-width="1.4"/>
<text class="a" font-size="20.8" x="265.9" y="258.1">DENSE BASIS</text>
<path d="M207,280.4 H248.6" stroke="#37a037" stroke-width="1.4"/>
<text class="a" font-size="20.8" x="265.9" y="287.5">PROSPECTOR</text>
</svg></body></html>
